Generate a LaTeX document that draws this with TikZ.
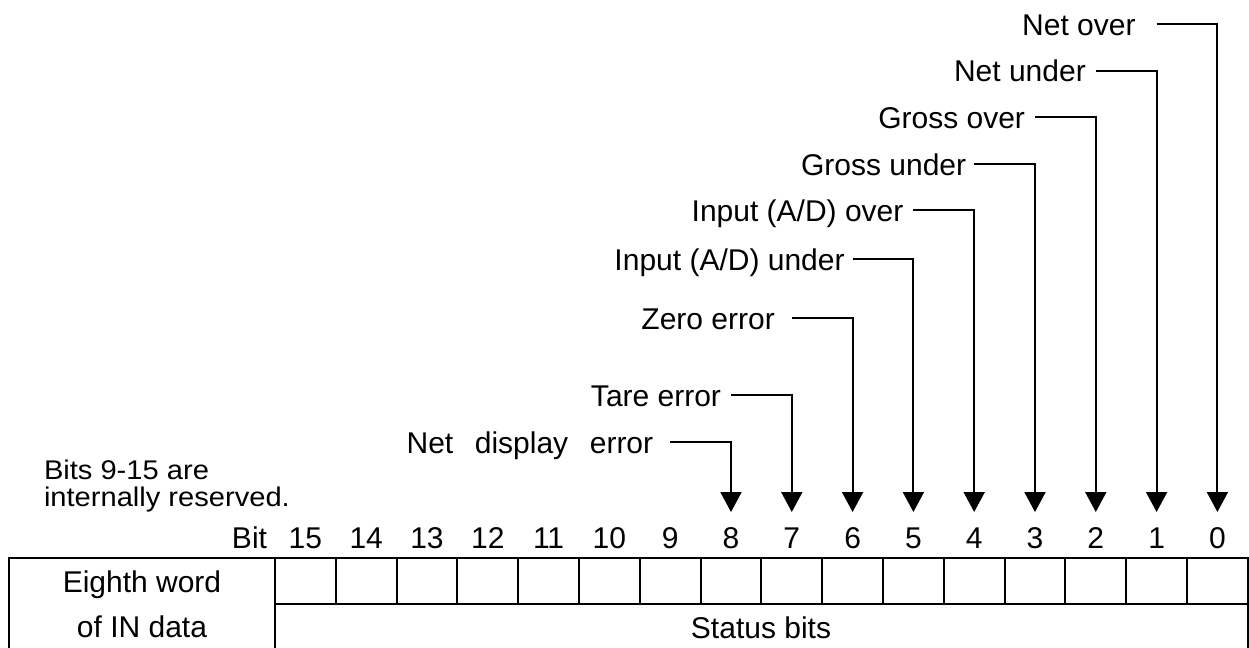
\documentclass[tikz,border=0pt]{standalone}
\usepackage{fontspec}
\setmainfont{Liberation Sans}
\usetikzlibrary{arrows.meta}
\usetikzlibrary{positioning}
\newcommand{\bitx}[1]{305.4+60.8*(15-#1)}

\begin{document}
\begin{tikzpicture}[x=0.5pt, y=-0.5pt, line width=1pt,
  >={Triangle[width=10.5pt,length=10pt]},
  lbl/.style={
    % text only, the line meets it at mid cap height
    inner sep=0pt, text height=11pt, text depth=0pt,
    font=\fontsize{15}{18}\selectfont},
  bitno/.style={lbl, outer ysep=7pt},
  cell/.style={
    % one bit of the word
    draw, minimum width=30.4pt, minimum height=23pt, inner sep=0pt}]

  \useasboundingbox (0,0) rectangle (1249,648);

  % the word
  \draw (9,558) rectangle (275,660);
  \draw (275,604) rectangle (1247.8,660);
  \foreach \i in {0,...,15}
    \node[cell] (c\i) at ({\bitx{\i}},581) {};
  \node (word) [anchor=base, align=center, inner sep=0pt,
    font=\fontsize{15}{22.5}\selectfont] at (142,637) {Eighth word\\of IN data};
  \node (status) [anchor=base, inner sep=0pt, font=\fontsize{15}{18}\selectfont]
    at (761,638) {Status bits};

  % bit numbers
  \foreach \i in {0,...,15}
    \node[bitno, anchor=base] (n\i) at ({\bitx{\i}},548) {\i};
  \node (bit) [lbl, anchor=base east] at (268,548) {Bit};

  \node (reserved) [anchor=base west, inner sep=0pt] at (43,479)
    {\scalebox{0.97}[0.9]{\fontsize{15}{13.9}\selectfont
      \begin{tabular}[t]{@{}l@{}}Bits 9-15 are\\internally reserved.\end{tabular}}};

  % status flags
  \coordinate (s0) at ({\bitx{1}},24);
  \node (netover) [lbl, left=10pt of s0] {Net over};
  \draw[->] (s0) -| (n0);

  \coordinate (s1) at ({\bitx{2}},71);
  \node (netunder) [lbl, left=4.5pt of s1] {Net under};
  \draw[->] (s1) -| (n1);

  \coordinate (s2) at ({\bitx{3}},117);
  \node (grossover) [lbl, left=4.5pt of s2] {Gross over};
  \draw[->] (s2) -| (n2);

  \coordinate (s3) at ({\bitx{4}},164);
  \node (grossunder) [lbl, left=3.5pt of s3] {Gross under};
  \draw[->] (s3) -| (n3);

  \coordinate (s4) at ({\bitx{5}},210);
  \node (inover) [lbl, left=4.5pt of s4] {Input (A/D) over};
  \draw[->] (s4) -| (n4);

  \coordinate (s5) at ({\bitx{6}},259);
  \node (inunder) [lbl, left=3.5pt of s5] {Input (A/D) under};
  \draw[->] (s5) -| (n5);

  \coordinate (s6) at ({\bitx{7}},318);
  \node (zero) [lbl, left=8pt of s6] {Zero error};
  \draw[->] (s6) -| (n6);

  \coordinate (s7) at ({\bitx{8}},395);
  \node (tare) [lbl, left=4.5pt of s7] {Tare error};
  \draw[->] (s7) -| (n7);

  \coordinate (s8) at ({\bitx{9}},442);
  \node (netdisp) [lbl, left=8pt of s8] {Net\hspace{0.72em}display\hspace{0.72em}error};
  \draw[->] (s8) -| (n8);
\end{tikzpicture}
\end{document}
